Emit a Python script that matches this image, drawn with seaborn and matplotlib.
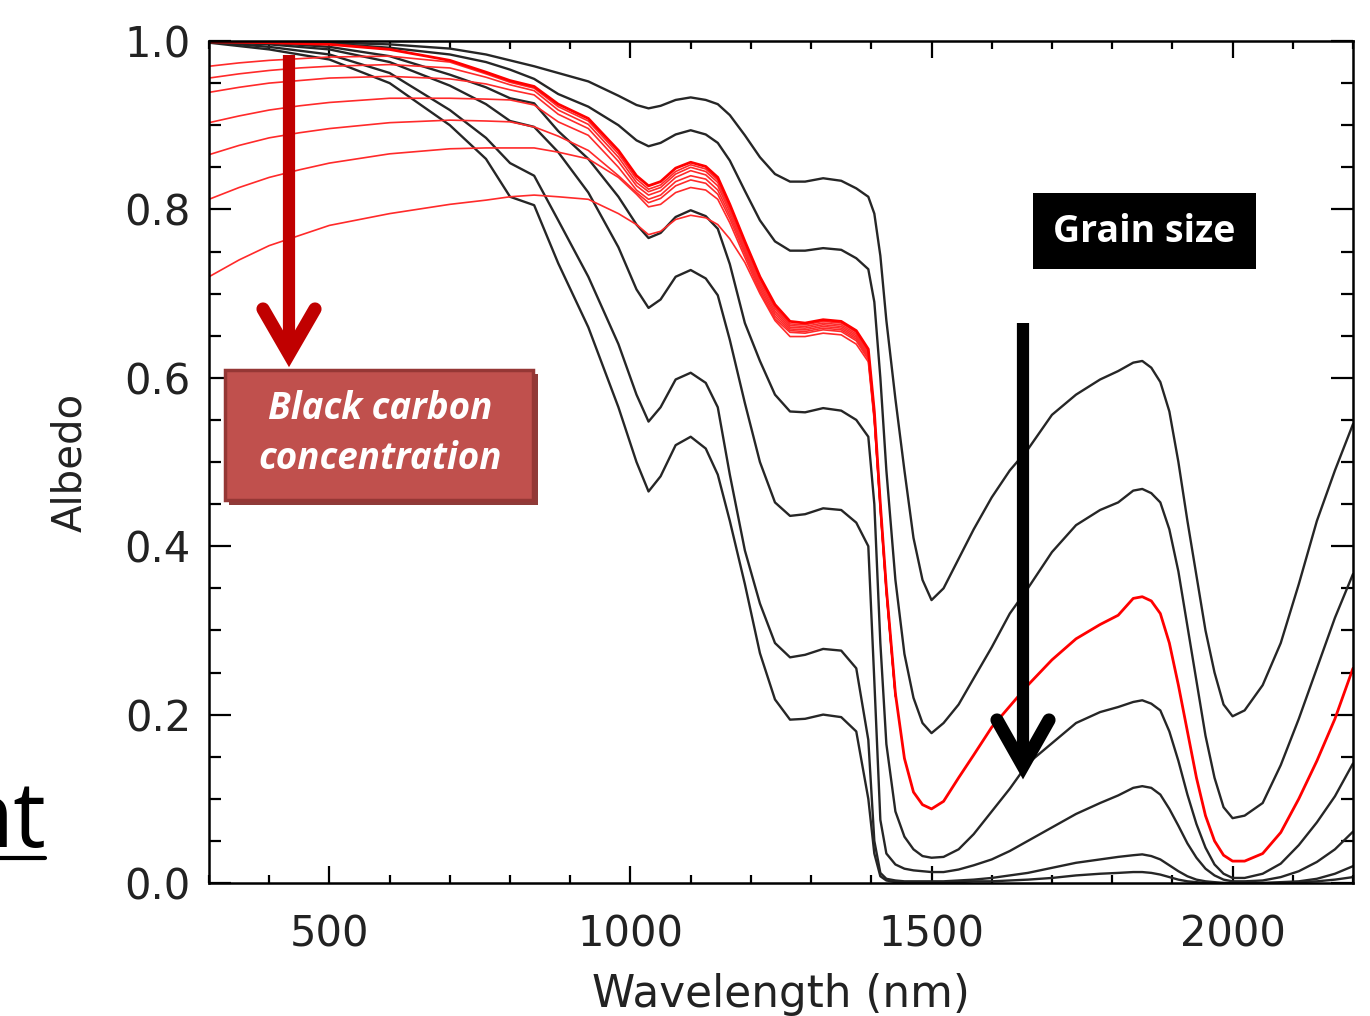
import numpy as np
import pandas as pd
import matplotlib
matplotlib.use("Agg")
import matplotlib.pyplot as plt
import seaborn as sns
from matplotlib.patches import Rectangle
from matplotlib.lines import Line2D
from matplotlib.ticker import MultipleLocator, FixedLocator

# ---------------- data ----------------
wavelength = [300, 400, 500, 600, 700, 760, 800, 840, 880, 930,
              980, 1010, 1030, 1050, 1075, 1100, 1125, 1145, 1165, 1190,
              1215, 1240, 1265, 1290, 1320, 1350, 1375, 1395, 1405, 1415,
              1425, 1440, 1455, 1470, 1485, 1500, 1520, 1545, 1570, 1600,
              1630, 1660, 1700, 1740, 1780, 1810, 1835, 1850, 1865, 1880,
              1895, 1910, 1925, 1940, 1955, 1970, 1985, 2000, 2020, 2050,
              2080, 2110, 2140, 2170, 2200]

grain_1 = [1.000, 0.999, 0.998, 0.996, 0.991, 0.984, 0.977, 0.970, 0.962, 0.952,
           0.935, 0.924, 0.920, 0.923, 0.930, 0.933, 0.930, 0.925, 0.912, 0.888,
           0.862, 0.842, 0.833, 0.833, 0.837, 0.834, 0.825, 0.815, 0.795, 0.745,
           0.668, 0.575, 0.490, 0.410, 0.360, 0.336, 0.350, 0.385, 0.420, 0.458,
           0.490, 0.515, 0.556, 0.580, 0.598, 0.608, 0.618, 0.620, 0.612, 0.595,
           0.560, 0.500, 0.430, 0.365, 0.300, 0.250, 0.212, 0.198, 0.205, 0.235,
           0.285, 0.355, 0.430, 0.490, 0.545]
grain_2 = [1.000, 0.999, 0.997, 0.992, 0.984, 0.975, 0.966, 0.955, 0.937, 0.922,
           0.900, 0.882, 0.875, 0.879, 0.889, 0.894, 0.889, 0.879, 0.858, 0.822,
           0.787, 0.762, 0.751, 0.751, 0.754, 0.752, 0.742, 0.729, 0.690, 0.600,
           0.490, 0.360, 0.272, 0.220, 0.190, 0.178, 0.190, 0.212, 0.243, 0.280,
           0.320, 0.350, 0.393, 0.425, 0.443, 0.452, 0.466, 0.468, 0.463, 0.452,
           0.420, 0.370, 0.305, 0.240, 0.175, 0.125, 0.090, 0.077, 0.080, 0.095,
           0.140, 0.195, 0.255, 0.315, 0.367]
clean_snow = [0.999, 0.998, 0.996, 0.990, 0.977, 0.963, 0.953, 0.946, 0.925, 0.908,
              0.870, 0.840, 0.828, 0.833, 0.849, 0.856, 0.851, 0.838, 0.806, 0.762,
              0.720, 0.687, 0.667, 0.665, 0.669, 0.667, 0.656, 0.634, 0.560, 0.450,
              0.350, 0.225, 0.148, 0.108, 0.093, 0.088, 0.097, 0.125, 0.152, 0.185,
              0.210, 0.235, 0.265, 0.290, 0.307, 0.318, 0.338, 0.340, 0.335, 0.320,
              0.285, 0.235, 0.180, 0.125, 0.080, 0.050, 0.033, 0.026, 0.026, 0.035,
              0.060, 0.100, 0.145, 0.195, 0.255]
grain_3 = [1.000, 0.998, 0.993, 0.982, 0.960, 0.945, 0.932, 0.926, 0.893, 0.860,
           0.815, 0.782, 0.766, 0.772, 0.791, 0.799, 0.792, 0.777, 0.735, 0.665,
           0.620, 0.580, 0.560, 0.559, 0.564, 0.561, 0.550, 0.530, 0.450, 0.285,
           0.165, 0.085, 0.055, 0.040, 0.032, 0.030, 0.031, 0.040, 0.058, 0.085,
           0.112, 0.142, 0.166, 0.190, 0.203, 0.209, 0.215, 0.217, 0.213, 0.205,
           0.180, 0.145, 0.105, 0.070, 0.042, 0.022, 0.011, 0.006, 0.006, 0.011,
           0.023, 0.045, 0.072, 0.103, 0.142]
grain_4 = [0.999, 0.996, 0.990, 0.975, 0.947, 0.925, 0.905, 0.898, 0.868, 0.820,
           0.755, 0.705, 0.683, 0.693, 0.720, 0.728, 0.718, 0.698, 0.645, 0.570,
           0.500, 0.452, 0.436, 0.438, 0.445, 0.443, 0.428, 0.400, 0.240, 0.075,
           0.035, 0.022, 0.017, 0.015, 0.014, 0.013, 0.013, 0.016, 0.021, 0.028,
           0.038, 0.050, 0.066, 0.082, 0.095, 0.104, 0.113, 0.115, 0.113, 0.105,
           0.088, 0.068, 0.047, 0.030, 0.017, 0.009, 0.004, 0.002, 0.002, 0.003,
           0.007, 0.014, 0.025, 0.040, 0.061]
grain_5 = [0.999, 0.993, 0.984, 0.962, 0.918, 0.885, 0.855, 0.840, 0.787, 0.720,
           0.640, 0.580, 0.548, 0.565, 0.598, 0.606, 0.594, 0.565, 0.485, 0.395,
           0.332, 0.285, 0.268, 0.271, 0.278, 0.276, 0.255, 0.170, 0.050, 0.012,
           0.005, 0.003, 0.002, 0.002, 0.002, 0.002, 0.002, 0.003, 0.004, 0.006,
           0.009, 0.012, 0.018, 0.024, 0.028, 0.031, 0.033, 0.034, 0.032, 0.028,
           0.021, 0.014, 0.008, 0.004, 0.002, 0.001, 0.000, 0.000, 0.000, 0.000,
           0.001, 0.002, 0.005, 0.011, 0.020]
grain_6 = [0.998, 0.990, 0.978, 0.950, 0.900, 0.860, 0.815, 0.805, 0.736, 0.660,
           0.565, 0.500, 0.465, 0.483, 0.520, 0.530, 0.516, 0.485, 0.430, 0.355,
           0.273, 0.218, 0.194, 0.195, 0.200, 0.197, 0.180, 0.100, 0.035, 0.008,
           0.003, 0.001, 0.001, 0.001, 0.001, 0.001, 0.001, 0.001, 0.002, 0.002,
           0.003, 0.004, 0.006, 0.009, 0.011, 0.012, 0.013, 0.013, 0.012, 0.010,
           0.007, 0.004, 0.002, 0.001, 0.000, 0.000, 0.000, 0.000, 0.000, 0.000,
           0.000, 0.001, 0.002, 0.004, 0.007]

wavelength_bc = [300, 350, 400, 450, 500, 600, 700, 760, 800, 840,
                 880, 930, 980, 1010, 1030, 1050, 1075, 1100, 1125, 1145,
                 1165, 1190, 1215, 1240, 1265, 1290, 1320, 1350, 1375, 1395,
                 1405, 1415, 1425, 1440]
bc_1 = [0.970, 0.974, 0.977, 0.979, 0.981, 0.982, 0.975, 0.961, 0.951, 0.944,
        0.922, 0.905, 0.866, 0.836, 0.824, 0.829, 0.845, 0.853, 0.848, 0.835,
        0.803, 0.759, 0.717, 0.684, 0.664, 0.663, 0.667, 0.665, 0.654, 0.632,
        0.558, 0.449, 0.349, 0.224]
bc_2 = [0.956, 0.961, 0.965, 0.968, 0.970, 0.972, 0.968, 0.957, 0.948, 0.941,
        0.918, 0.901, 0.862, 0.832, 0.821, 0.826, 0.842, 0.850, 0.845, 0.832,
        0.800, 0.756, 0.714, 0.682, 0.662, 0.661, 0.665, 0.663, 0.652, 0.630,
        0.556, 0.448, 0.348, 0.224]
bc_3 = [0.939, 0.945, 0.950, 0.953, 0.956, 0.958, 0.955, 0.949, 0.942, 0.936,
        0.913, 0.896, 0.857, 0.828, 0.817, 0.822, 0.838, 0.846, 0.841, 0.828,
        0.797, 0.753, 0.711, 0.679, 0.660, 0.659, 0.663, 0.661, 0.650, 0.628,
        0.555, 0.447, 0.348, 0.223]
bc_4 = [0.903, 0.911, 0.918, 0.923, 0.927, 0.932, 0.932, 0.931, 0.930, 0.924,
        0.904, 0.888, 0.850, 0.823, 0.812, 0.817, 0.833, 0.840, 0.836, 0.823,
        0.793, 0.750, 0.708, 0.676, 0.658, 0.657, 0.661, 0.659, 0.648, 0.626,
        0.553, 0.446, 0.347, 0.223]
bc_5 = [0.865, 0.876, 0.885, 0.891, 0.896, 0.903, 0.906, 0.905, 0.904, 0.898,
        0.887, 0.870, 0.840, 0.820, 0.808, 0.813, 0.828, 0.835, 0.831, 0.818,
        0.789, 0.747, 0.705, 0.673, 0.656, 0.655, 0.659, 0.657, 0.646, 0.624,
        0.552, 0.445, 0.346, 0.222]
bc_6 = [0.812, 0.826, 0.838, 0.847, 0.855, 0.866, 0.872, 0.873, 0.873, 0.873,
        0.868, 0.860, 0.838, 0.818, 0.803, 0.806, 0.820, 0.826, 0.823, 0.812,
        0.784, 0.743, 0.702, 0.670, 0.654, 0.653, 0.657, 0.655, 0.644, 0.622,
        0.551, 0.444, 0.345, 0.222]
bc_7 = [0.720, 0.740, 0.757, 0.769, 0.781, 0.795, 0.806, 0.811, 0.815, 0.817,
        0.815, 0.812, 0.795, 0.782, 0.770, 0.774, 0.788, 0.793, 0.790, 0.782,
        0.765, 0.737, 0.700, 0.668, 0.649, 0.649, 0.653, 0.651, 0.640, 0.619,
        0.548, 0.442, 0.344, 0.221]

x_ticks = [500, 1000, 1500, 2000]
x_tick_labels = ["500", "1000", "1500", "2000"]
y_ticks = [0.0, 0.2, 0.4, 0.6, 0.8, 1.0]
y_tick_labels = ["0.0", "0.2", "0.4", "0.6", "0.8", "1.0"]

# ---------------- long-form tables ----------------
grain_curves = {"g1": grain_1, "g2": grain_2, "g3": grain_3,
                "g4": grain_4, "g5": grain_5, "g6": grain_6}
bc_curves = {"b1": bc_1, "b2": bc_2, "b3": bc_3, "b4": bc_4,
             "b5": bc_5, "b6": bc_6, "b7": bc_7}

df_grain = pd.concat([pd.DataFrame({"Wavelength": wavelength, "Albedo": v, "curve": k})
                      for k, v in grain_curves.items()], ignore_index=True)
df_bc = pd.concat([pd.DataFrame({"Wavelength": wavelength_bc, "Albedo": v, "curve": k})
                   for k, v in bc_curves.items()], ignore_index=True)
df_clean = pd.DataFrame({"Wavelength": wavelength, "Albedo": clean_snow, "curve": "clean"})

# ---------------- figure ----------------
sns.set_theme(style="ticks")
plt.rcParams["font.family"] = ["DejaVu Sans"]

W, H = 1370, 1016
fig = plt.figure(figsize=(W / 100, H / 100), dpi=100)
fig.patch.set_facecolor("white")
ax = fig.add_axes([209 / W, 1 - 883 / H, (1353 - 209) / W, (883 - 41) / H])
ax.set_facecolor("white")

sns.lineplot(data=df_grain, x="Wavelength", y="Albedo", units="curve", estimator=None,
             color="#262626", lw=1.7, sort=False, ax=ax)
sns.lineplot(data=df_bc, x="Wavelength", y="Albedo", units="curve", estimator=None,
             color="#ff2a2a", lw=1.2, sort=False, ax=ax)
sns.lineplot(data=df_clean, x="Wavelength", y="Albedo", estimator=None,
             color="#ff0000", lw=2.0, sort=False, ax=ax)

ax.set_xlim(300, 2200)
ax.set_ylim(0, 1.0)
ax.xaxis.set_major_locator(FixedLocator(x_ticks))
ax.set_xticklabels(x_tick_labels)
ax.xaxis.set_minor_locator(MultipleLocator(100))
ax.yaxis.set_major_locator(FixedLocator(y_ticks))
ax.set_yticklabels(y_tick_labels)
ax.yaxis.set_minor_locator(MultipleLocator(0.05))

for s in ax.spines.values():
    s.set_linewidth(1.8)
    s.set_color("black")
    s.set_visible(True)

ax.tick_params(axis="x", which="major", direction="in", length=12, width=1.6, top=True,
               labelsize=30, pad=22, colors="black", labelcolor="#222222")
ax.tick_params(axis="x", which="minor", direction="in", length=6, width=1.6, top=True, colors="black")
ax.tick_params(axis="y", which="major", direction="in", length=16, width=1.6, right=True,
               labelsize=30, pad=13, colors="black", labelcolor="#222222")
ax.tick_params(axis="y", which="minor", direction="in", length=8.5, width=1.6, right=True, colors="black")

ax.set_xlabel("Wavelength (nm)", fontsize=31.5, color="#222222")
ax.set_ylabel("Albedo", fontsize=29, color="#222222")
ax.xaxis.set_label_coords(0.5, -0.107)
ax.yaxis.set_label_coords(-0.104, 0.5)


def fx(x):
    return x / W


def fy(y):
    return 1 - y / H


# ---- red "Black carbon" arrow ----
fig.add_artist(Line2D([fx(289), fx(289)], [fy(55), fy(345)], color="#c00000", lw=8.8,
                      solid_capstyle="butt"))
fig.add_artist(Line2D([fx(263), fx(289), fx(315)], [fy(309), fy(354), fy(309)], color="#c00000",
                      lw=9.5, solid_capstyle="round", solid_joinstyle="miter"))

# ---- red box ----
fig.add_artist(Rectangle((fx(229), fy(505)), (538 - 229) / W, (505 - 374) / H,
                         facecolor="#8f3b39", edgecolor="none"))
fig.add_artist(Rectangle((fx(225), fy(500)), (533 - 225) / W, (500 - 370) / H,
                         facecolor="#c0504d", edgecolor="#953735", lw=2.5))
fig.text(fx(380), fy(409), "Black carbon", ha="center", va="center", color="white",
         fontsize=26.5, fontweight="bold", fontstyle="italic", family=["Open Sans", "DejaVu Sans"])
fig.text(fx(380), fy(459), "concentration", ha="center", va="center", color="white",
         fontsize=26.5, fontweight="bold", fontstyle="italic", family=["Open Sans", "DejaVu Sans"])

# ---- Grain size box ----
fig.add_artist(Rectangle((fx(1033), fy(269)), (1256 - 1033) / W, (269 - 193) / H,
                         facecolor="black", edgecolor="none"))
fig.text(fx(1144), fy(232), "Grain size", ha="center", va="center", color="white",
         fontsize=27, fontweight="bold", family=["Open Sans", "DejaVu Sans"])

# ---- black arrow ----
fig.add_artist(Line2D([fx(1023), fx(1023)], [fy(323), fy(755)], color="black", lw=8.8,
                      solid_capstyle="butt"))
fig.add_artist(Line2D([fx(997), fx(1023), fx(1049)], [fy(720), fy(766), fy(720)], color="black",
                      lw=9.5, solid_capstyle="round", solid_joinstyle="miter"))

# ---- cropped slide text at left ----
fig.text(fx(46), fy(847), "nt", ha="right", va="baseline", color="black", fontsize=66,
         family=["Open Sans", "DejaVu Sans"])
fig.add_artist(Line2D([0, fx(45)], [fy(858), fy(858)], color="black", lw=3))

fig.savefig("out.png", dpi=100, facecolor="white")
